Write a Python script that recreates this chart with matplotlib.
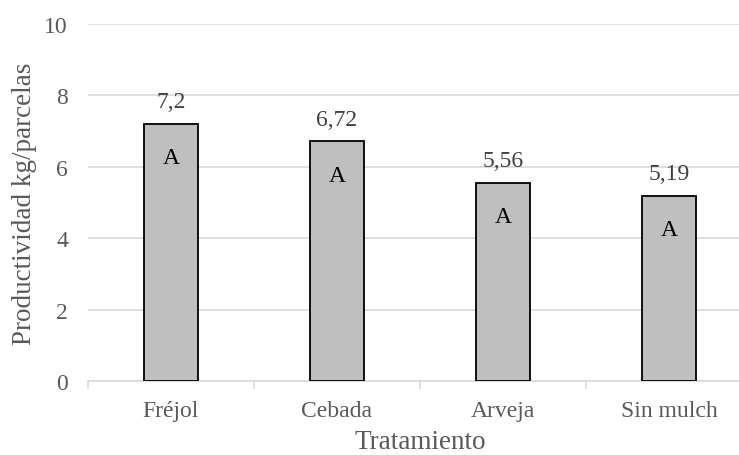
import numpy as np
import matplotlib
matplotlib.use('Agg')
import matplotlib.pyplot as plt

# Values
tratamientos = ['Fréjol', 'Cebada', 'Arveja', 'Sin mulch']
productividad = [7.2, 6.72, 5.56, 5.19]
etiquetas = ['7,2', '6,72', '5,56', '5,19']
letras = ['A', 'A', 'A', 'A']

plt.rcParams['font.family'] = ['Liberation Serif', 'DejaVu Serif']

fig = plt.figure(figsize=(7.39, 4.56), dpi=100)
# plot area runs past the right edge of the picture, as in the original crop
ax = fig.add_axes([88 / 739, 74 / 456, 664 / 739, 357 / 456])

x = np.arange(len(tratamientos))
ax.bar(x, productividad, width=0.32, color='#BFBFBF', edgecolor='black',
       linewidth=1.3, zorder=3)

for xi, v, lab, let in zip(x, productividad, etiquetas, letras):
    ax.annotate(lab, (xi, v), xytext=(0, 22), textcoords='offset pixels',
                ha='center', va='center', fontsize=17, color='#404040')
    ax.annotate(let, (xi, v), xytext=(0, -34), textcoords='offset pixels',
                ha='center', va='center', fontsize=17, color='black')

ax.set_xlim(-0.5, len(tratamientos) - 0.5)
ax.set_ylim(0, 10)
ax.set_yticks([0, 2, 4, 6, 8, 10])
ax.set_xticks(x)
ax.set_xticklabels(tratamientos)
ax.set_xticks(np.arange(-0.5, len(tratamientos), 1), minor=True)

ax.grid(axis='y', color='#D9D9D9', linewidth=1.2, zorder=0)
for s in ['top', 'right', 'left']:
    ax.spines[s].set_visible(False)
ax.spines['bottom'].set_color('#D9D9D9')
ax.spines['bottom'].set_linewidth(1.2)

ax.tick_params(axis='y', length=0, pad=14.4, labelsize=17, labelcolor='#595959')
ax.tick_params(axis='x', which='major', length=0, pad=13.6, labelsize=17,
               labelcolor='#595959')
ax.tick_params(axis='x', which='minor', length=6, width=1.2, color='#D9D9D9')

ax.set_ylabel('Productividad kg/parcelas', fontsize=19.5, color='#595959', labelpad=5)
ax.set_xlabel('Tratamiento', fontsize=19.5, color='#595959', labelpad=6)

fig.savefig('out.png', dpi=100)
